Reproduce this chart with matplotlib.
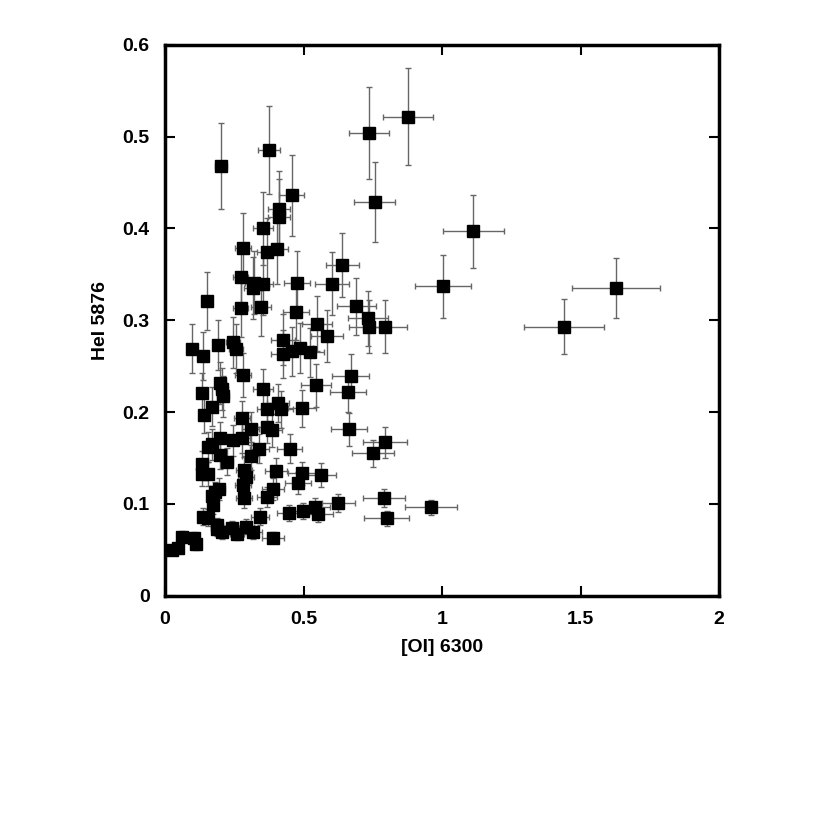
import matplotlib
matplotlib.use("Agg")
import matplotlib.pyplot as plt

plt.rcParams['font.family'] = ['Liberation Sans', 'DejaVu Sans']

oi6300 = [0.877, 0.736, 0.758, 1.112, 1.004, 1.628, 1.44, 0.96, 0.79, 0.80,
          0.794, 0.75, 0.664, 0.64, 0.69, 0.733, 0.736, 0.794, 0.671, 0.66,
          0.625, 0.545, 0.354, 0.495, 0.368, 0.408, 0.419, 0.368, 0.386, 0.34,
          0.451, 0.40, 0.495, 0.48, 0.563, 0.39, 0.368, 0.448, 0.498, 0.54,
          0.552, 0.343, 0.39, 0.318, 0.292, 0.26, 0.242, 0.206, 0.188, 0.188,
          0.155, 0.137, 0.173, 0.18, 0.195, 0.17, 0.134, 0.155, 0.134, 0.199,
          0.224, 0.155, 0.17, 0.199, 0.245, 0.278, 0.31, 0.278, 0.31, 0.285,
          0.292, 0.282, 0.285, 0.025, 0.047, 0.061, 0.105, 0.112, 0.354, 0.282,
          0.368, 0.404, 0.274, 0.321, 0.318, 0.354, 0.476, 0.603, 0.152, 0.274,
          0.346, 0.473, 0.549, 0.585, 0.098, 0.137, 0.191, 0.245, 0.256, 0.426,
          0.426, 0.458, 0.487, 0.523, 0.282, 0.134, 0.199, 0.206, 0.209, 0.141,
          0.17, 0.202, 0.375, 0.458, 0.412, 0.412]

hei5876 = [0.522, 0.504, 0.429, 0.397, 0.337, 0.335, 0.293, 0.096, 0.106, 0.084,
           0.167, 0.155, 0.181, 0.36, 0.315, 0.302, 0.293, 0.293, 0.239, 0.222,
           0.101, 0.229, 0.225, 0.204, 0.203, 0.21, 0.203, 0.184, 0.18, 0.16,
           0.16, 0.136, 0.133, 0.123, 0.131, 0.116, 0.107, 0.09, 0.092, 0.096,
           0.089, 0.086, 0.063, 0.069, 0.075, 0.067, 0.074, 0.069, 0.077, 0.072,
           0.085, 0.086, 0.099, 0.113, 0.116, 0.108, 0.132, 0.132, 0.143, 0.153,
           0.146, 0.162, 0.165, 0.172, 0.169, 0.172, 0.182, 0.193, 0.152, 0.137,
           0.129, 0.12, 0.106, 0.05, 0.052, 0.064, 0.063, 0.056, 0.4, 0.379,
           0.374, 0.378, 0.347, 0.341, 0.335, 0.34, 0.341, 0.34, 0.321, 0.313,
           0.314, 0.309, 0.296, 0.283, 0.269, 0.261, 0.273, 0.276, 0.269, 0.279,
           0.263, 0.266, 0.27, 0.265, 0.24, 0.221, 0.232, 0.225, 0.217, 0.197,
           0.206, 0.468, 0.486, 0.436, 0.421, 0.413]

oi_err = [0.09, 0.072, 0.074, 0.11, 0.10, 0.16, 0.145, 0.095, 0.077, 0.08,
          0.08, 0.075, 0.066, 0.06, 0.07, 0.072, 0.072, 0.08, 0.067, 0.066,
          0.06, 0.055, 0.035, 0.05, 0.037, 0.04, 0.042, 0.037, 0.038, 0.034,
          0.045, 0.04, 0.05, 0.048, 0.056, 0.039, 0.037, 0.045, 0.05, 0.054,
          0.055, 0.034, 0.039, 0.032, 0.03, 0.026, 0.024, 0.02, 0.019, 0.019,
          0.016, 0.014, 0.017, 0.018, 0.02, 0.017, 0.013, 0.016, 0.013, 0.02,
          0.022, 0.016, 0.017, 0.02, 0.025, 0.028, 0.031, 0.028, 0.031, 0.028,
          0.029, 0.028, 0.028, 0.003, 0.005, 0.006, 0.01, 0.011, 0.035, 0.028,
          0.037, 0.04, 0.027, 0.032, 0.032, 0.035, 0.048, 0.06, 0.015, 0.027,
          0.035, 0.047, 0.055, 0.058, 0.01, 0.014, 0.019, 0.025, 0.026, 0.043,
          0.043, 0.046, 0.049, 0.052, 0.028, 0.013, 0.02, 0.021, 0.021, 0.014,
          0.017, 0.02, 0.04, 0.045, 0.041, 0.041]

hei_err = [0.053, 0.05, 0.044, 0.04, 0.034, 0.033, 0.03, 0.008, 0.01, 0.008,
           0.017, 0.015, 0.018, 0.035, 0.031, 0.03, 0.029, 0.029, 0.024, 0.022,
           0.01, 0.023, 0.022, 0.02, 0.02, 0.021, 0.02, 0.018, 0.018, 0.016,
           0.016, 0.014, 0.013, 0.012, 0.013, 0.012, 0.011, 0.009, 0.009, 0.01,
           0.009, 0.009, 0.006, 0.007, 0.008, 0.007, 0.007, 0.007, 0.008, 0.007,
           0.009, 0.009, 0.01, 0.011, 0.012, 0.011, 0.013, 0.013, 0.014, 0.015,
           0.015, 0.016, 0.017, 0.017, 0.017, 0.017, 0.018, 0.019, 0.015, 0.014,
           0.013, 0.012, 0.011, 0.005, 0.005, 0.006, 0.006, 0.006, 0.04, 0.038,
           0.037, 0.038, 0.035, 0.034, 0.034, 0.034, 0.034, 0.034, 0.032, 0.031,
           0.031, 0.031, 0.03, 0.028, 0.027, 0.026, 0.027, 0.028, 0.027, 0.028,
           0.026, 0.027, 0.027, 0.027, 0.024, 0.022, 0.023, 0.023, 0.022, 0.02,
           0.021, 0.047, 0.048, 0.044, 0.042, 0.041]

x_ticks = [0, 0.5, 1, 1.5, 2]
x_tick_labels = ['0', '0.5', '1', '1.5', '2']
y_ticks = [0, 0.1, 0.2, 0.3, 0.4, 0.5, 0.6]
y_tick_labels = ['0', '0.1', '0.2', '0.3', '0.4', '0.5', '0.6']

fig = plt.figure(figsize=(8.3, 8.3), dpi=100)
ax = fig.add_axes([0.1988, 0.2825, 0.8663 - 0.1988, 0.9458 - 0.2825])

ax.errorbar(oi6300, hei5876, xerr=oi_err, yerr=hei_err, fmt='none',
            ecolor='#666666', elinewidth=1.0, capsize=2.5, capthick=1.0, zorder=2)
ax.plot(oi6300, hei5876, 's', color='black', markersize=8.5, zorder=3)

ax.set_xlim(0, 2)
ax.set_ylim(0, 0.6)
ax.set_xticks(x_ticks)
ax.set_xticklabels(x_tick_labels)
ax.set_yticks(y_ticks)
ax.set_yticklabels(y_tick_labels)
ax.tick_params(direction='in', length=7, width=1.5, top=True, right=True,
               labelsize=14, pad=11)
for lbl in ax.get_xticklabels() + ax.get_yticklabels():
    lbl.set_fontweight('bold')
for s in ax.spines.values():
    s.set_linewidth(2.5)

ax.set_xlabel('[OI] 6300', fontsize=14, fontweight='bold', labelpad=8)
ax.set_ylabel('HeI 5876', fontsize=14, fontweight='bold', labelpad=10)

fig.savefig('out.png', dpi=100)
